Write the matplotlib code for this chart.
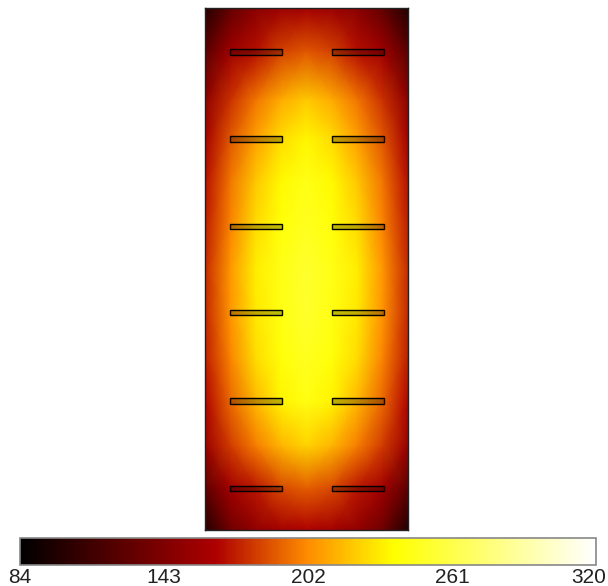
import numpy as np
import matplotlib
matplotlib.use("Agg")
from matplotlib import pyplot as plt
from matplotlib.colors import LinearSegmentedColormap
from matplotlib.patches import Rectangle
from matplotlib.transforms import ScaledTranslation

# plate size (cm) and temperature field
plate_w = 20.0
plate_h = 51.4
col_x = np.linspace(0, plate_w, 9)
row_y = [0, 4.3, 9.1, 12.9, 17.1, 21.5, 25.8, 30.0, 34.4, 38.7, 43.1, 47.3, 51.4]
temps = np.array([
    [100, 130, 148, 156, 160, 156, 148, 130, 100],
    [126, 157, 168, 182, 188, 182, 168, 157, 126],
    [150, 178, 196, 212, 221, 212, 196, 178, 150],
    [160, 188, 208, 226, 235, 226, 208, 188, 160],
    [168, 196, 220, 236, 244, 236, 220, 196, 168],
    [172, 200, 226, 240, 248, 240, 226, 200, 172],
    [176, 205, 232, 244, 252, 244, 232, 205, 176],
    [175, 204, 230, 243, 251, 243, 230, 204, 175],
    [172, 200, 226, 240, 248, 240, 226, 200, 172],
    [166, 192, 215, 234, 243, 234, 215, 192, 166],
    [155, 180, 198, 214, 224, 214, 198, 180, 155],
    [128, 158, 170, 184, 190, 184, 170, 158, 128],
    [100, 135, 152, 160, 165, 160, 152, 135, 100],
])
t_min, t_max = 84, 320
cbar_ticks = [84, 143, 202, 261, 320]

# heater strips: left edges, width, row centres
strip_left = [2.46, 12.5]
strip_len = 5.1
strip_thick = 0.5
strip_rows = [4.33, 12.9, 21.5, 30.0, 38.7, 47.3]

cmap = LinearSegmentedColormap.from_list(
    "plate_hot",
    [(0.0, (0, 0, 0)), (0.34, (0.68, 0, 0)), (0.5, (1, 0.55, 0)),
     (0.65, (1, 1, 0)), (1.0, (1, 1, 1))])

plt.rcParams["font.family"] = ["Liberation Sans", "DejaVu Sans"]

fig = plt.figure(figsize=(6.08, 5.86), dpi=100)
ax = fig.add_axes([205 / 608, 56 / 586, 203 / 608, 522 / 586])
mesh = ax.pcolormesh(col_x, row_y, temps, shading="gouraud", cmap=cmap,
                     vmin=t_min, vmax=t_max)
for x0 in strip_left:
    for yc in strip_rows:
        ax.add_patch(Rectangle((x0, yc - strip_thick / 2), strip_len, strip_thick,
                               facecolor=(0, 0, 0, 0.25), edgecolor="black", lw=1.0))
ax.set_xlim(0, plate_w)
ax.set_ylim(plate_h, 0)
ax.set_xticks([])
ax.set_yticks([])
for s in ax.spines.values():
    s.set_color("#222222")
    s.set_linewidth(1.0)

cax = fig.add_axes([20 / 608, 21 / 586, 576 / 608, 27 / 586])
cb = fig.colorbar(mesh, cax=cax, orientation="horizontal", ticks=cbar_ticks)
cb.outline.set_edgecolor("#888888")
cb.outline.set_linewidth(1.2)
cax.tick_params(length=0, labelsize=15, pad=2, colors="#222222")
labels = cax.set_xticklabels([str(t) for t in cbar_ticks])
# keep the last label inside the figure
labels[-1].set_horizontalalignment("right")
labels[-1].set_transform(labels[-1].get_transform()
                         + ScaledTranslation(10 / 100, 0, fig.dpi_scale_trans))

fig.savefig("out.png", dpi=100)
